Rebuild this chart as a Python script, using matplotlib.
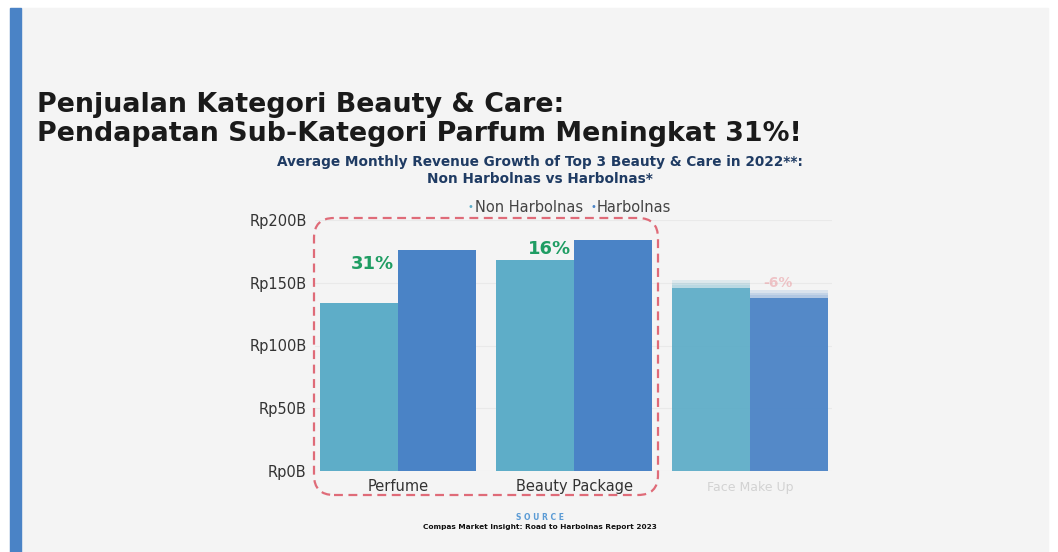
import matplotlib.pyplot as plt
from matplotlib.patches import Rectangle, FancyBboxPatch
import numpy as np

categories = ['Perfume', 'Beauty Package', 'Face Make Up']
non_harbolnas = [134, 168, 149]   # Rp billion
harbolnas = [176, 184, 141]
growth = ['31%', '16%', '-6%']
y_ticks = [0, 50, 100, 150, 200]
y_labels = ['Rp0B', 'Rp50B', 'Rp100B', 'Rp150B', 'Rp200B']

c_non = '#5eadc8'
c_har = '#4a83c6'
c_green = '#1f9d63'
W, H = 1058, 552

fig = plt.figure(figsize=(W / 100, H / 100), dpi=100, facecolor='white')
px = fig.dpi_scale_trans

# page background + left accent
fig.patches.append(Rectangle((0.10, 0), 10.38, 5.44, transform=px, color='#f4f4f4', zorder=-10))
fig.patches.append(Rectangle((0.10, 0), 0.11, 5.44, transform=px, color='#4a83c6', zorder=-9))

# titles
fig.text(0.37, 5.52 - 1.12, 'Penjualan Kategori Beauty & Care:', transform=px,
         fontsize=19.4, fontweight='bold', color='#1a1a1a')
fig.text(0.37, 5.52 - 1.41, 'Pendapatan Sub-Kategori Parfum Meningkat 31%!', transform=px,
         fontsize=19.4, fontweight='bold', color='#1a1a1a')
fig.text(5.40, 5.52 - 1.62, 'Average Monthly Revenue Growth of Top 3 Beauty & Care in 2022**:',
         transform=px, ha='center', va='center', fontsize=9.8, fontweight='bold', color='#1f3b63')
fig.text(5.40, 5.52 - 1.79, 'Non Harbolnas vs Harbolnas*',
         transform=px, ha='center', va='center', fontsize=9.8, fontweight='bold', color='#1f3b63')

# legend
fig.text(4.70, 5.52 - 2.07, '•', transform=px, ha='center', va='center', fontsize=7, color=c_non)
fig.text(4.75, 5.52 - 2.07, 'Non Harbolnas', transform=px, va='center', fontsize=10.5, color='#444444')
fig.text(5.93, 5.52 - 2.07, '•', transform=px, ha='center', va='center', fontsize=7, color=c_har)
fig.text(5.97, 5.52 - 2.07, 'Harbolnas', transform=px, va='center', fontsize=10.5, color='#444444')

ax = fig.add_axes([315 / W, (H - 471) / H, (832 - 315) / W, 251 / H])
ax.set_facecolor('none')
x = np.arange(len(categories))
bw = 0.445
ax.bar(x[:2] - bw / 2, non_harbolnas[:2], bw, color=c_non, zorder=2)
ax.bar(x[:2] + bw / 2, harbolnas[:2], bw, color=c_har, zorder=2)
# third category is blurred in the original: main bar plus soft top halo
ax.bar(x[2] - bw / 2, non_harbolnas[2] - 3, bw, color=c_non, alpha=0.9, zorder=3, linewidth=0)
ax.bar(x[2] + bw / 2, harbolnas[2] - 3, bw, color=c_har, alpha=0.9, zorder=3, linewidth=0)
for k in range(1, 4):
    ax.bar(x[2] - bw / 2, non_harbolnas[2] - 3 + 2 * k, bw, color=c_non, alpha=0.15, zorder=2, linewidth=0)
    ax.bar(x[2] + bw / 2, harbolnas[2] - 3 + 2 * k, bw, color=c_har, alpha=0.15, zorder=2, linewidth=0)

ax.set_xlim(-0.472, 2.466)
ax.set_ylim(0, 200)
ax.set_yticks(y_ticks)
ax.set_yticklabels(y_labels, fontsize=10.5, color='#333333')
ax.tick_params(axis='y', length=0, pad=6)
ax.tick_params(axis='x', length=0, pad=6)
ax.set_xticks(x[:2])
ax.set_xticklabels(categories[:2], fontsize=10.5, color='#333333')
ax.text(x[2], -13, categories[2], ha='center', va='center', fontsize=9, color='#c4c4c4', alpha=0.7)
ax.grid(axis='y', color='#e9e9e9', linewidth=0.8, zorder=0)
for s in ax.spines.values():
    s.set_visible(False)

ax.text(-0.148, 165, growth[0], ha='center', va='center', fontsize=13, fontweight='bold', color=c_green)
ax.text(0.858, 177, growth[1], ha='center', va='center', fontsize=13, fontweight='bold', color=c_green)
ax.text(2.16, 150, growth[2], ha='center', va='center', fontsize=10, fontweight='bold', color='#e8888f', alpha=0.45)

# dashed highlight box around first two groups
fig.patches.append(FancyBboxPatch((3.34, 0.77), 3.04, 2.37, boxstyle='round,pad=0.2', transform=px,
                                  fill=False, edgecolor='#df6b78', linestyle=(0, (4, 2.5)), linewidth=1.6, zorder=5))

# source
fig.text(5.40, 5.52 - 5.17, 'S O U R C E', transform=px, ha='center', va='center',
         fontsize=5.5, fontweight='bold', color='#5b9bd5')
fig.text(5.40, 5.52 - 5.27, 'Compas Market Insight: Road to Harbolnas Report 2023', transform=px,
         ha='center', va='center', fontsize=5.3, fontweight='bold', color='#111111')

fig.savefig('out.png', dpi=100, facecolor=fig.get_facecolor())
